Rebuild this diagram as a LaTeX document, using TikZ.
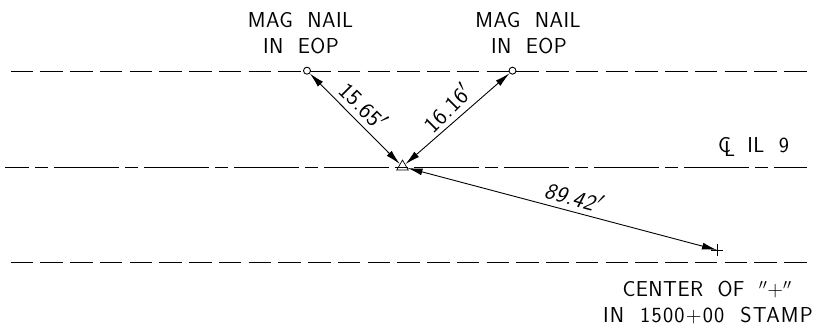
\documentclass[tikz,border=0pt]{standalone}
\usepackage{fontspec}
\setsansfont{Latin Modern Sans}[LetterSpace=2,WordSpace=2]
\newcommand{\clmark}{\rlap{\kern6pt\raisebox{-4pt}{L}}C\kern2pt}
\usetikzlibrary{arrows.meta, shapes.geometric}

\begin{document}
\begin{tikzpicture}[x=1pt, y=-1pt, font=\sffamily\fontsize{21.6}{26}\selectfont,
    road/.style={line width=.8pt, dash pattern=on 22.5pt off 7.25pt},
    cline/.style={line width=.8pt, dash pattern=on 65pt off 6pt on 13pt off 6pt, dash phase=41pt},
    dim/.style={line width=.9pt, {Latex[length=15pt, width=7pt]}-{Latex[length=15pt, width=7pt]}},
    note/.style={align=center, inner sep=0pt, outer sep=0pt, anchor=base},
    dimtext/.style={inner sep=0pt, outer sep=0pt, font=\sffamily\fontsize{23}{26}\selectfont}]
  \useasboundingbox (0, 0) rectangle (814, 328);

  % road lines
  \foreach \yy/\xa in {71/10.7, 262.5/10.7} { \draw [road] (\xa, \yy) -- (807, \yy); }
  \draw [cline] (5, 167) -- (807, 167);

  % points
  \node (nailL) at (307, 70.7) [circle, draw, fill=white, line width=.9pt, minimum size=7pt, inner sep=0pt] {};
  \node (nailR) at (512.5, 70.7) [circle, draw, fill=white, line width=.9pt, minimum size=7pt, inner sep=0pt] {};
  \node (ctrl) at (402.5, 166.7) [regular polygon, regular polygon sides=3, draw, line width=.7pt, minimum size=13.3pt, inner sep=0pt] {};
  \coordinate (stamp) at (717, 250);
  \draw [line width=.7pt] (stamp) ++(-6, 0) -- ++(12, 0) (stamp) ++(0, -6) -- ++(0, 12);

  % dimensions
  \draw [dim] (nailL) -- (ctrl);
  \draw [dim] (nailR) -- (ctrl);
  \draw [dim] (ctrl) -- (stamp);

  \node (dimL) at (363.5, 105.5) [dimtext, rotate=-45] {15.65$'$};
  \node (dimR) at (447, 108) [dimtext, rotate=45] {16.16$'$};
  \node (dimS) at (574.5, 197) [dimtext, rotate=-15.5, xslant=.2] {89.42$'$};

  % labels
  \node (magL) at (300.5, 27.7) [note] {MAG NAIL};
  \node (eopL) at (301, 54) [note] {IN EOP};
  \node (magR) at (528, 27.7) [note] {MAG NAIL};
  \node (eopR) at (529, 54) [note] {IN EOP};
  \node (ilnine) at (753.5, 153) [note] {\clmark{} IL 9};
  \node (center) at (707, 297) [note] {CENTER OF $''$+$''$};
  \node (instamp) at (708, 323) [note] {\addfontfeature{LetterSpace=5.7}IN 1500+00 STAMP};
\end{tikzpicture}
\end{document}
